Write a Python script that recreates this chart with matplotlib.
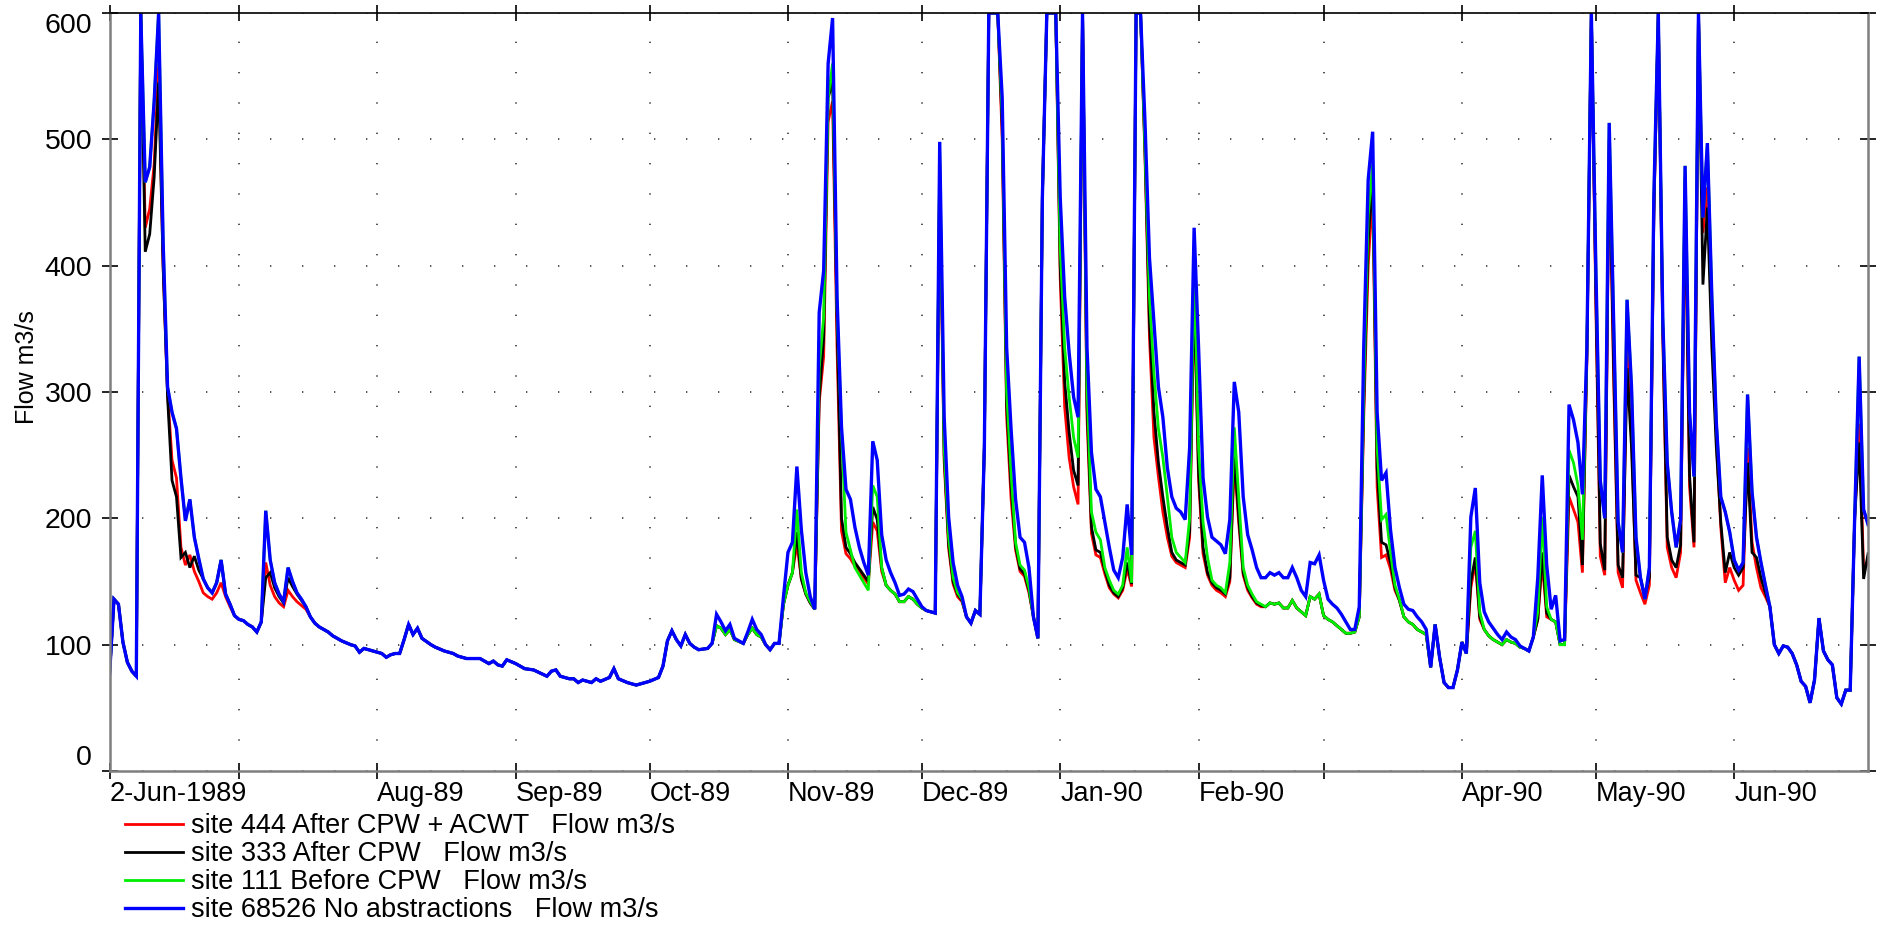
import numpy as np
import matplotlib
matplotlib.use("Agg")
import matplotlib.pyplot as plt

plt.rcParams['font.family'] = ['Liberation Sans', 'DejaVu Sans']

# daily flow, keyed by day number counted from 2-Jun-1989
start = np.datetime64('1989-06-02')

# site 68526, no abstractions (blue)
blue_flow = {
    0: 76, 1: 136, 2: 132, 3: 102, 4: 86, 5: 79, 6: 75, 7: 600, 8: 466, 9: 478,
    10: 530, 11: 600, 12: 420, 13: 304, 14: 284, 15: 271, 16: 232, 17: 198, 18: 215, 19: 185,
    20: 168, 21: 152, 22: 145, 23: 141, 24: 149, 25: 167, 26: 140, 27: 132, 28: 123, 29: 120,
    30: 119, 31: 116, 32: 114, 33: 110, 34: 118, 35: 206, 36: 167, 37: 149, 38: 140, 39: 134,
    40: 161, 41: 150, 42: 141, 43: 136, 44: 130, 45: 122, 46: 117, 47: 114, 48: 112, 49: 110,
    50: 107, 52: 103, 54: 100, 55: 99, 56: 94, 57: 97, 59: 95, 61: 93, 62: 90, 63: 92,
    64: 93, 65: 93, 66: 104, 67: 116, 68: 108, 69: 113, 70: 105, 72: 100, 73: 98, 75: 95,
    77: 93, 78: 91, 80: 89, 83: 89, 85: 85, 86: 87, 87: 84, 88: 83, 89: 88, 91: 85,
    93: 81, 95: 80, 98: 75, 99: 79, 100: 80, 101: 75, 103: 73, 104: 73, 105: 70, 106: 72,
    108: 70, 109: 73, 110: 71, 112: 74, 113: 81, 114: 73, 116: 70, 118: 68, 121: 71, 123: 74,
    124: 83, 125: 103, 126: 111, 127: 104, 128: 99, 129: 108, 130: 101, 131: 98, 132: 96, 134: 97,
    135: 101, 136: 124, 137: 118, 138: 111, 139: 116, 140: 105, 142: 101, 143: 110, 144: 120, 145: 112,
    146: 108, 147: 100, 148: 96, 149: 101, 150: 101, 151: 138, 152: 173, 153: 181, 154: 241, 155: 191,
    156: 157, 157: 138, 158: 128, 159: 363, 160: 396, 161: 560, 162: 596, 163: 375, 164: 272, 165: 223,
    166: 215, 167: 193, 168: 177, 169: 165, 170: 155, 171: 261, 172: 246, 173: 187, 174: 167, 175: 157,
    176: 149, 177: 139, 178: 140, 179: 144, 180: 142, 181: 136, 182: 130, 183: 127, 184: 126, 185: 125,
    186: 498, 187: 280, 188: 201, 189: 165, 190: 147, 191: 138, 192: 122, 193: 117, 194: 127, 195: 124,
    196: 256, 197: 600, 198: 600, 199: 600, 200: 533, 201: 335, 202: 270, 203: 215, 204: 185, 205: 181,
    206: 161, 207: 122, 208: 105, 209: 454, 210: 600, 211: 600, 212: 600, 213: 454, 214: 375, 215: 331,
    216: 296, 217: 280, 218: 600, 219: 335, 220: 252, 221: 223, 222: 217, 223: 197, 224: 177, 225: 159,
    226: 153, 227: 169, 228: 211, 229: 171, 230: 600, 231: 600, 232: 513, 233: 406, 234: 355, 235: 304,
    236: 280, 237: 240, 238: 217, 239: 208, 240: 205, 241: 199, 242: 256, 243: 430, 244: 335, 245: 232,
    246: 201, 247: 185, 248: 182, 249: 179, 250: 172, 251: 199, 252: 308, 253: 284, 254: 217, 255: 187,
    256: 175, 257: 161, 258: 153, 259: 153, 260: 157, 261: 155, 262: 157, 263: 153, 264: 153, 265: 161,
    266: 153, 267: 143, 268: 138, 269: 165, 270: 164, 271: 171, 272: 151, 273: 136, 274: 132, 275: 129,
    276: 124, 277: 118, 278: 112, 279: 112, 280: 130, 281: 335, 282: 468, 283: 506, 284: 284, 285: 230,
    286: 236, 287: 191, 288: 161, 289: 145, 290: 132, 291: 128, 292: 127, 293: 122, 294: 118, 295: 112,
    296: 82, 297: 116, 298: 90, 299: 70, 300: 66, 301: 66, 302: 80, 303: 102, 304: 93, 305: 201,
    306: 224, 307: 149, 308: 126, 309: 118, 310: 113, 311: 108, 312: 104, 313: 110, 314: 106, 315: 104,
    316: 99, 317: 97, 318: 95, 319: 106, 320: 153, 321: 234, 322: 163, 323: 128, 324: 139, 325: 103,
    326: 104, 327: 290, 328: 278, 329: 260, 330: 219, 331: 335, 332: 600, 333: 400, 334: 230, 335: 200,
    336: 513, 337: 355, 338: 197, 339: 173, 340: 373, 341: 304, 342: 185, 343: 153, 344: 136, 345: 161,
    346: 454, 347: 600, 348: 359, 349: 244, 350: 205, 351: 177, 352: 199, 353: 479, 354: 284, 355: 233,
    356: 600, 357: 438, 358: 497, 359: 375, 360: 276, 361: 217, 362: 205, 363: 189, 364: 167, 365: 159,
    366: 165, 367: 298, 368: 221, 369: 185, 370: 165, 371: 147, 372: 130, 373: 100, 374: 93, 375: 99,
    376: 98, 377: 93, 378: 84, 379: 71, 380: 67, 381: 54, 382: 72, 383: 121, 384: 95, 385: 88,
    386: 84, 387: 58, 388: 53, 389: 64, 390: 64, 391: 201, 392: 328, 393: 207, 394: 195,
}

# site 111 before CPW (green) - days where it sits below the blue line
green_diff = {
    136: 115, 137: 113, 138: 108, 139: 112, 140: 104, 143: 108, 144: 113, 145: 108, 146: 106,
    151: 132, 152: 147, 153: 157, 154: 207, 155: 157, 156: 141, 157: 134, 159: 319, 160: 359,
    161: 533, 162: 560, 163: 367, 164: 268, 165: 189, 166: 175, 167: 161, 168: 155, 169: 149,
    170: 143, 171: 226, 172: 217, 173: 161, 174: 147, 175: 143, 176: 140, 177: 134, 178: 134,
    179: 138, 180: 136, 181: 132, 182: 129, 186: 490, 187: 256, 188: 185, 189: 153, 190: 141,
    191: 136, 200: 520, 201: 300, 202: 235, 203: 181, 204: 163, 205: 159, 206: 145,
    213: 414, 214: 335, 215: 296, 216: 264, 217: 248, 219: 304, 220: 205, 221: 189, 222: 183,
    223: 161, 224: 151, 225: 143, 226: 140, 227: 147, 228: 177, 229: 149,
    232: 493, 233: 375, 234: 315, 235: 271, 236: 248, 237: 217, 238: 185, 239: 173, 240: 169,
    241: 165, 242: 200, 243: 400, 244: 256, 245: 197, 246: 169, 247: 151, 248: 147, 249: 145,
    250: 141, 251: 165, 252: 272, 253: 217, 254: 161, 255: 147, 256: 140, 257: 134, 258: 132,
    259: 130, 260: 133, 261: 132, 262: 133, 263: 129, 264: 129, 265: 135, 266: 129, 267: 126,
    268: 123, 269: 138, 270: 136, 271: 140, 272: 123, 273: 120, 274: 118, 275: 115, 276: 112,
    277: 109, 278: 109, 279: 110, 280: 122, 281: 300, 282: 440, 283: 480, 284: 256, 285: 199,
    286: 203, 287: 173, 288: 147, 289: 136, 290: 122, 291: 118, 292: 116, 293: 112, 294: 110,
    295: 108, 305: 177, 306: 190, 307: 126, 308: 112, 309: 107, 310: 104, 311: 102, 312: 100,
    313: 104, 314: 102, 315: 101, 316: 98, 320: 126, 321: 201, 322: 130, 323: 120, 324: 118,
    325: 100, 326: 100, 327: 254, 328: 244, 329: 226, 330: 183,
}

# site 333 after CPW (black) - days where it differs from the green line
black_diff = {
    8: 411, 9: 425, 10: 470, 11: 545, 12: 400, 13: 296, 14: 230, 15: 217, 16: 169, 17: 173,
    18: 161, 19: 170, 20: 159, 35: 153, 36: 157, 37: 145, 38: 138, 39: 133, 40: 153, 41: 146,
    42: 140, 43: 135, 44: 130, 154: 189, 155: 152, 156: 140, 157: 133,
    159: 296, 160: 343, 161: 533, 162: 545, 163: 355, 164: 200, 165: 177, 166: 172, 167: 165,
    168: 160, 169: 155, 170: 150, 171: 209, 172: 199, 186: 480, 187: 250, 188: 180, 189: 150,
    190: 140, 191: 135, 200: 510, 201: 290, 202: 225, 203: 178, 204: 160, 205: 156, 206: 143,
    213: 400, 214: 308, 215: 268, 216: 238, 217: 226, 219: 290, 220: 193, 221: 175, 222: 173,
    223: 159, 224: 147, 225: 141, 226: 138, 227: 145, 228: 165, 229: 148,
    232: 490, 233: 355, 234: 284, 235: 244, 236: 217, 237: 193, 238: 173, 239: 167, 240: 165,
    241: 163, 242: 190, 243: 385, 244: 237, 245: 177, 246: 157, 247: 149, 248: 145, 249: 143,
    250: 140, 251: 153, 252: 252, 253: 201, 254: 157, 255: 145, 256: 138, 257: 133, 258: 131,
    281: 290, 282: 420, 283: 470, 284: 240, 285: 181, 286: 179, 287: 165, 288: 145, 289: 135,
    305: 150, 306: 169, 307: 122, 320: 120, 321: 173, 322: 125,
    327: 234, 328: 225, 329: 217, 330: 163, 331: 330, 333: 380, 334: 180, 335: 159, 336: 500,
    337: 320, 338: 163, 339: 153, 340: 319, 341: 256, 342: 155, 343: 153, 344: 138, 345: 153,
    346: 440, 348: 350, 349: 185, 350: 167, 351: 161, 352: 179, 353: 470, 354: 234, 355: 181,
    357: 385, 358: 446, 359: 335, 360: 256, 361: 197, 362: 157, 363: 173, 364: 161, 365: 155,
    366: 161, 367: 244, 368: 173, 369: 169, 370: 153, 371: 141,
    391: 200, 392: 260, 393: 152, 394: 172,
}

# site 444 after CPW + ACWT (red) - days where it differs from the black line
red_diff = {
    8: 430, 9: 445, 10: 480, 11: 560, 12: 400, 13: 300, 14: 246, 15: 232, 16: 177, 17: 163,
    18: 171, 19: 158, 20: 150, 21: 141, 22: 138, 23: 136, 24: 141, 25: 149, 26: 138, 27: 130,
    35: 165, 36: 147, 37: 138, 38: 133, 39: 130, 40: 143, 41: 138, 42: 134, 43: 131, 44: 128,
    154: 180, 159: 292, 160: 328, 161: 514, 162: 530, 163: 335, 164: 190, 165: 172, 166: 168,
    167: 162, 168: 158, 169: 153, 170: 148, 171: 197, 172: 190, 173: 158,
    186: 470, 187: 245, 188: 176, 189: 148, 190: 138, 191: 134,
    200: 500, 201: 280, 202: 215, 203: 175, 204: 158, 205: 154, 206: 141,
    213: 390, 214: 288, 215: 248, 216: 225, 217: 211, 219: 280, 220: 188, 221: 171, 222: 169,
    223: 156, 224: 145, 225: 140, 226: 137, 227: 143, 228: 160, 229: 146,
    232: 485, 233: 343, 234: 264, 235: 233, 236: 205, 237: 185, 238: 170, 239: 165, 240: 163,
    241: 161, 242: 185, 243: 380, 244: 230, 245: 172, 246: 155, 247: 147, 248: 143, 249: 141,
    250: 138, 251: 150, 252: 245, 253: 196, 254: 155, 255: 143, 256: 137, 257: 132, 258: 130,
    281: 280, 282: 400, 283: 460, 284: 225, 285: 169, 286: 171, 287: 160, 288: 143,
    305: 145, 306: 165, 307: 120, 321: 165, 322: 122,
    327: 217, 328: 207, 329: 197, 330: 157, 331: 325, 333: 370, 334: 170, 335: 155, 336: 490,
    337: 310, 338: 157, 339: 145, 340: 335, 341: 268, 342: 151, 343: 141, 344: 132, 345: 147,
    348: 345, 349: 177, 350: 161, 351: 153, 352: 173, 353: 460, 354: 225, 355: 177,
    357: 426, 358: 462, 359: 355, 360: 264, 361: 193, 362: 149, 363: 161, 364: 151, 365: 143,
    366: 147, 367: 256, 368: 181, 369: 161, 370: 145, 371: 138,
    392: 275, 393: 160, 394: 165,
}

labels = ['site 444 After CPW + ACWT   Flow m3/s',
          'site 333 After CPW   Flow m3/s',
          'site 111 Before CPW   Flow m3/s',
          'site 68526 No abstractions   Flow m3/s']
colors = ['#ff0000', '#000000', '#00ee00', '#0000ff']

tick_dates = ['1989-06-02', '1989-07-01', '1989-08-01', '1989-09-01', '1989-10-01',
              '1989-11-01', '1989-12-01', '1990-01-01', '1990-02-01', '1990-03-01',
              '1990-04-01', '1990-05-01', '1990-06-01']
tick_labels = ['2-Jun-1989', '', 'Aug-89', 'Sep-89', 'Oct-89', 'Nov-89', 'Dec-89',
               'Jan-90', 'Feb-90', '', 'Apr-90', 'May-90', 'Jun-90']


def overlay(base, diff):
    out = dict(base)
    out.update(diff)
    return out


green_flow = overlay(blue_flow, green_diff)
black_flow = overlay(green_flow, black_diff)
red_flow = overlay(black_flow, red_diff)

fig = plt.figure(figsize=(18.82, 9.27), dpi=100)
ax = fig.add_axes([0.0582, 0.1683, 0.9344, 0.8177])

for flow, lab, col, lw in zip([red_flow, black_flow, green_flow, blue_flow], labels, colors,
                              [2.0, 2.0, 2.0, 2.4]):
    days = sorted(flow)
    x = start + np.array(days).astype('timedelta64[D]')
    ax.plot(x, [flow[d] for d in days], color=col, lw=lw, label=lab, solid_joinstyle='miter')

ax.set_xlim(start, np.datetime64('1990-07-01'))
ax.set_ylim(0, 600)
ax.set_yticks(range(0, 601, 100))
ax.set_xticks(np.array(tick_dates, dtype='datetime64[D]'))
ax.set_xticklabels(tick_labels, ha='left')

ax.tick_params(direction='inout', length=12, width=1.2, color='black', top=True, right=True)
ax.tick_params(axis='x', pad=1, labelsize=19.5)
ax.tick_params(axis='y', pad=6.5, labelsize=20.5)

# end labels of the y axis are kept inside the plot height
ylabels = ax.get_yticklabels()
ylabels[0].set_va('bottom')
ylabels[-1].set_va('top')

ax.grid(axis='x', color='#333333', linestyle=(0, (0.8, 17.4)), linewidth=1.2)
ax.grid(axis='y', color='#333333', linestyle=(0, (0.8, 18.4)), linewidth=1.2)

for side in ['left', 'bottom', 'right']:
    ax.spines[side].set_color('#7f7f7f')
    ax.spines[side].set_linewidth(1.8)
ax.spines['top'].set_color('black')
ax.spines['top'].set_linewidth(1.2)

ax.set_ylabel('Flow m3/s', fontsize=18)
ax.yaxis.set_label_coords(-0.040, 0.533)

ax.legend(loc='upper left', bbox_to_anchor=(0.0664, 0.1226), bbox_transform=fig.transFigure,
          frameon=False, fontsize=19.5, handlelength=2.15, handletextpad=0.3, borderpad=0,
          borderaxespad=0, labelspacing=0.075)

fig.savefig('out.png', dpi=100)
